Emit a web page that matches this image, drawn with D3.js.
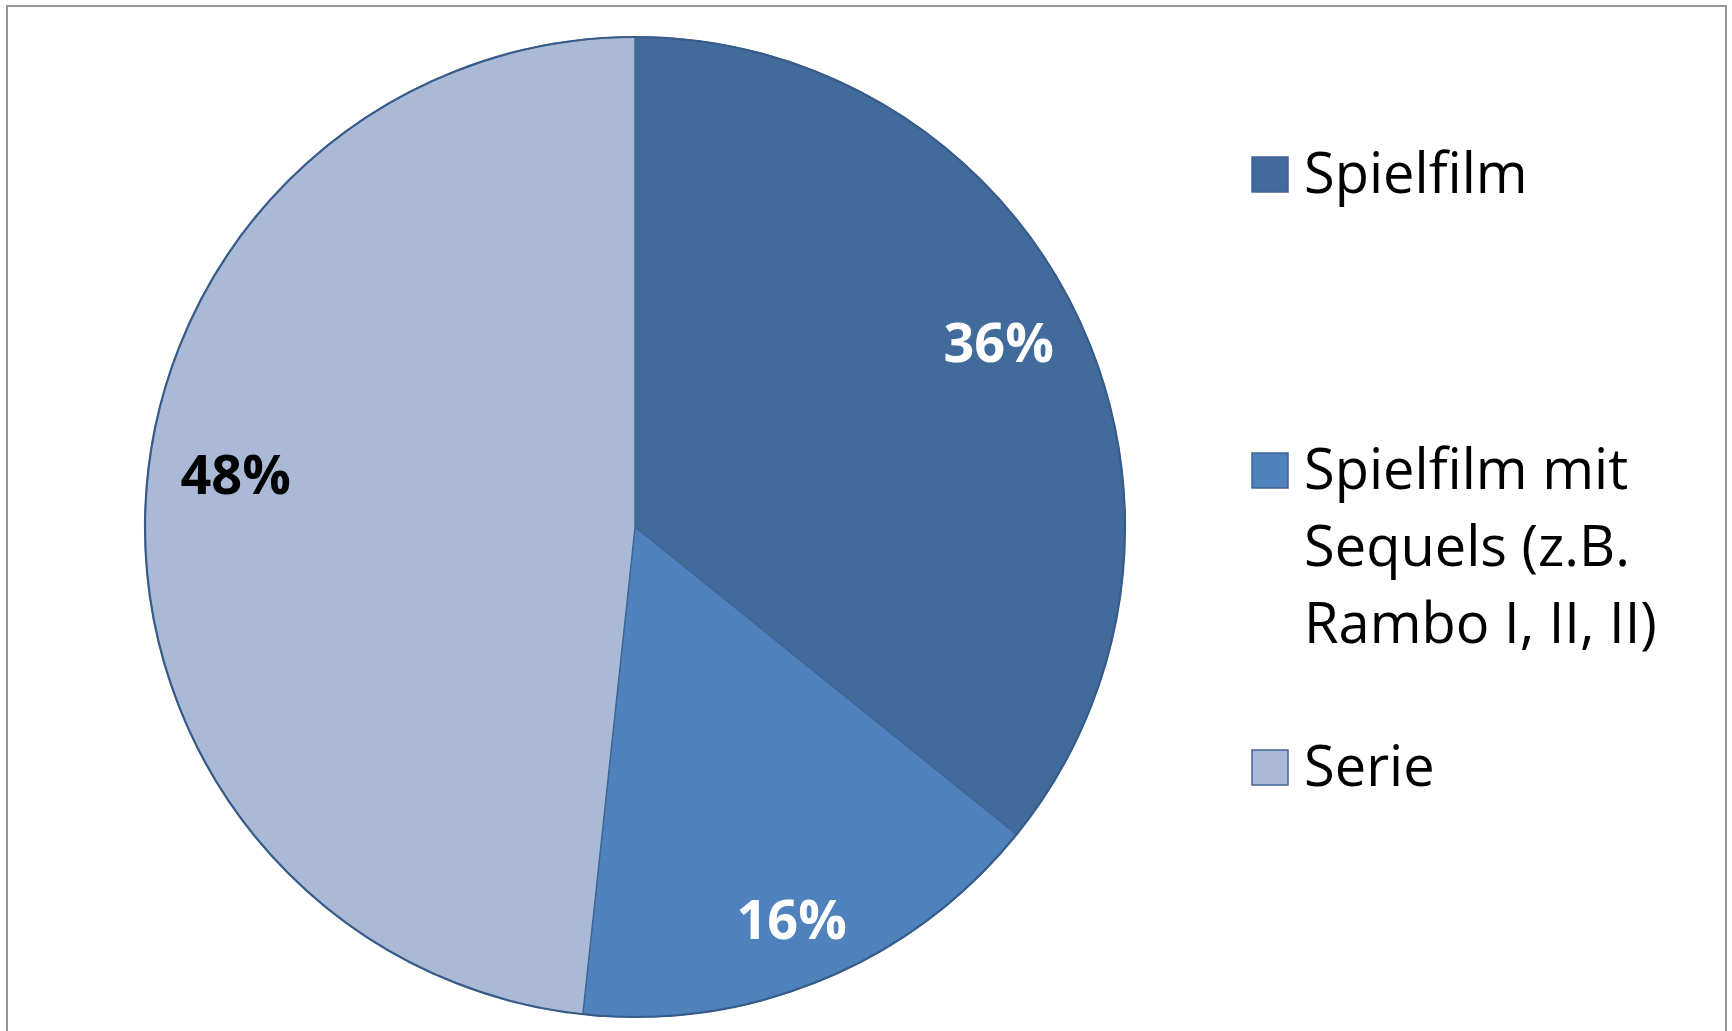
<!DOCTYPE html>
<html>
<head>
<meta charset="utf-8">
<script src="https://cdn.jsdelivr.net/npm/d3@7"></script>
<style>
  html, body { margin: 0; padding: 0; background: #fff; }
  svg { display: block; }
  text { font-family: "Open Sans", "Noto Sans", sans-serif; }
</style>
</head>
<body>
<div id="chart"></div>
<script>
const categories = ['Spielfilm', 'Spielfilm mit Sequels (z.B. Rambo I, II, II)', 'Serie']
const values = [35.8, 15.9, 48.3]

const PALETTE = ['#416B9B', '#4F81BD', '#AAB9D6']
const LABEL_COLORS = ['#fff', '#fff', '#000']
// small hand offsets, like the labels in the original
const LABEL_NUDGE = [[-8, -7], [-1, 12], [12, -30]]

const WIDTH = 1732
const HEIGHT = 1031

function defineSVG (selector) {
  return d3.select(selector)
    .append('svg')
    .attr('width', WIDTH)
    .attr('height', HEIGHT)
}

function wrap (textSel, maxWidth, lineHeight) {
  textSel.each(function () {
    const text = d3.select(this)
    const words = text.text().split(/\s+/)
    const x = text.attr('x')
    text.text(null)
    let line = []
    let tspan = text.append('tspan').attr('x', x).attr('dy', 0)
    words.forEach(w => {
      line.push(w)
      tspan.text(line.join(' '))
      if (tspan.node().getComputedTextLength() > maxWidth && line.length > 1) {
        line.pop()
        tspan.text(line.join(' '))
        line = [w]
        tspan = text.append('tspan').attr('x', x).attr('dy', lineHeight).text(w)
      }
    })
  })
}

const svg = defineSVG('#chart')

// chart frame (bottom edge runs off the picture)
svg.append('rect')
  .attr('x', 7)
  .attr('y', 6)
  .attr('width', 1719)
  .attr('height', 1100)
  .attr('fill', '#fff')
  .attr('stroke', '#969696')
  .attr('stroke-width', 2)

const cx = 635
const cy = 527
const radius = 490

const total = d3.sum(values)
const pct = d3.format('.0%')

const pie = d3.pie().sort(null).value(d => d)
const arcs = pie(values)
const arc = d3.arc().innerRadius(0).outerRadius(radius)
const labelArc = d3.arc().innerRadius(412).outerRadius(412)

const g = svg.append('g')
  .attr('transform', `translate(${cx},${cy})`)

g.selectAll('path.slice')
  .data(arcs)
  .enter()
  .append('path')
  .attr('class', 'slice')
  .attr('d', arc)
  .attr('fill', (d, i) => PALETTE[i])
  .attr('stroke', '#3F6595')
  .attr('stroke-width', 1.3)
  .attr('stroke-linejoin', 'round')

// darker rim
g.append('circle')
  .attr('r', radius)
  .attr('fill', 'none')
  .attr('stroke', '#385C8A')
  .attr('stroke-width', 2.2)

g.selectAll('text.pct')
  .data(arcs)
  .enter()
  .append('text')
  .attr('class', 'pct')
  .attr('transform', (d, i) => {
    const [x, y] = labelArc.centroid(d)
    return `translate(${x + LABEL_NUDGE[i][0]},${y + LABEL_NUDGE[i][1]})`
  })
  .attr('text-anchor', 'middle')
  .attr('dy', '0.36em')
  .attr('font-size', 54)
  .attr('font-weight', 700)
  .attr('fill', (d, i) => LABEL_COLORS[i])
  .text(d => pct(d.value / total))

// legend
const legendY = [157, 453, 750]
const legend = svg.append('g').attr('class', 'legend')
const items = legend.selectAll('g')
  .data(categories)
  .enter()
  .append('g')
  .attr('transform', (d, i) => `translate(1252,${legendY[i]})`)

items.append('rect')
  .attr('width', 36)
  .attr('height', 35)
  .attr('fill', (d, i) => PALETTE[i])
  .attr('stroke', '#3F6595')
  .attr('stroke-width', 1.5)

items.append('text')
  .attr('x', 52)
  .attr('y', 36)
  .attr('font-size', 56)
  .attr('fill', '#000')
  .text(d => d)
  .call(wrap, 410, 77)
</script>
</body>
</html>
